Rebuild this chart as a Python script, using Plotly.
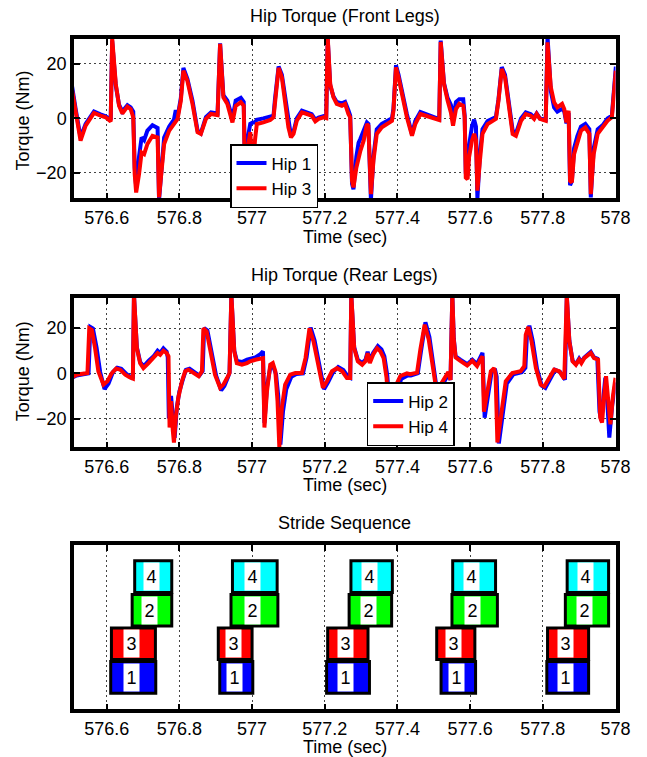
import plotly.graph_objects as go

# ---------------- data ----------------
xtick_vals = [576.6, 576.8, 577.0, 577.2, 577.4, 577.6, 577.8, 578.0]
xtick_text = ["576.6", "576.8", "577", "577.2", "577.4", "577.6", "577.8", "578"]
ytick_vals = [-20, 0, 20]
ytick_text = ["\u221220", "0", "20"]

# Front legs: Hip 3 (red)
t_hip3 = [576.500, 576.505, 576.515, 576.528, 576.542, 576.565, 576.583, 576.597, 576.611, 576.615,
          576.625, 576.634, 576.643, 576.657, 576.666, 576.673, 576.677, 576.681, 576.689, 576.696,
          576.703, 576.712, 576.726, 576.740, 576.744, 576.751, 576.758, 576.772, 576.785, 576.795,
          576.804, 576.811, 576.822, 576.836, 576.850, 576.859, 576.873, 576.887, 576.905, 576.912,
          576.921, 576.932, 576.946, 576.955, 576.969, 576.977, 576.981, 576.987, 576.995, 577.002,
          577.008, 577.013, 577.031, 577.050, 577.059, 577.063, 577.073, 577.082, 577.091, 577.100,
          577.107, 577.114, 577.123, 577.137, 577.151, 577.164, 577.174, 577.183, 577.197, 577.204,
          577.208, 577.215, 577.224, 577.233, 577.247, 577.256, 577.265, 577.270, 577.275, 577.279,
          577.287, 577.293, 577.298, 577.307, 577.316, 577.320, 577.327, 577.334, 577.343, 577.357,
          577.371, 577.385, 577.389, 577.396, 577.403, 577.412, 577.426, 577.440, 577.449, 577.463,
          577.477, 577.490, 577.507, 577.515, 577.519, 577.528, 577.538, 577.547, 577.553, 577.561,
          577.570, 577.581, 577.585, 577.588, 577.593, 577.597, 577.605, 577.611, 577.616, 577.620,
          577.627, 577.634, 577.648, 577.662, 577.671, 577.678, 577.687, 577.696, 577.707, 577.717,
          577.726, 577.740, 577.753, 577.767, 577.776, 577.783, 577.792, 577.808, 577.813, 577.822,
          577.831, 577.840, 577.853, 577.859, 577.865, 577.871, 577.875, 577.880, 577.886, 577.895,
          577.905, 577.917, 577.928, 577.932, 577.940, 577.951, 577.965, 577.978, 577.990, 577.997,
          578.001]
hip3 = [11.0, 10.2, 2.2, -8.2, -2.7, 2.0, 1.0, 0.4, -1.1, 29.5,
        12.6, 4.6, 1.8, 4.3, 3.4, 0.4, -20.4, -27.2, -20.4, -12.5,
        -13.1, -9.4, -6.4, -7.0, -29.0, -18.0, -9.4, -4.5, -2.1, -0.2,
        6.5, 17.5, 13.8, 5.3, -5.1, -5.7, -0.2, 1.6, 1.2, 27.3,
        7.7, 5.3, -1.5, 4.6, 5.9, 4.6, -26.0, -12.0, -5.0, -20.0,
        -8.0, -2.1, -1.5, -0.6, 0.4, 6.5, 18.5, 15.0, 6.5, -3.3,
        -7.0, -5.7, -0.9, 2.2, 1.6, 1.0, -1.1, -0.2, 0.4, 0.1,
        30.0, 12.6, 7.7, 5.3, 4.6, 5.3, 1.6, 0.4, -22.9, -25.3,
        -18.0, -14.3, -11.9, -8.2, -2.1, -2.7, -27.8, -15.5, -5.7, -3.3,
        -2.1, -0.9, 2.8, 18.7, 15.0, 8.9, 0.4, -6.4, -2.1, 1.6,
        1.0, 0.4, -0.2, -0.6, 28.0, 12.6, 6.5, 2.2, -2.7, 3.4,
        5.3, 4.6, 0.4, -21.7, -22.3, -14.3, -8.2, -5.7, -8.0, -26.5,
        -15.5, -5.7, -2.1, -0.9, -0.2, 6.5, 18.1, 15.0, 4.0, -5.7,
        -6.4, -0.9, 1.6, 1.0, -0.2, 1.6, -0.2, -0.9, 27.9, 11.4,
        5.9, 4.0, 5.3, 3.4, -1.5, 2.8, -22.9, -23.5, -13.1, -9.4,
        -4.5, -3.3, -5.7, -27.8, -13.1, -5.7, -3.3, -0.9, 0.4, 12.6,
        17.5]

# Front legs: Hip 1 (blue)
t_hip1 = [576.500, 576.505, 576.515, 576.528, 576.542, 576.565, 576.583, 576.597, 576.611, 576.615,
          576.625, 576.634, 576.643, 576.657, 576.666, 576.673, 576.677, 576.681, 576.689, 576.696,
          576.703, 576.712, 576.726, 576.740, 576.744, 576.751, 576.758, 576.772, 576.785, 576.790,
          576.795, 576.804, 576.811, 576.822, 576.836, 576.850, 576.859, 576.873, 576.887, 576.905,
          576.912, 576.921, 576.932, 576.946, 576.955, 576.969, 576.977, 576.981, 576.987, 576.995,
          577.002, 577.008, 577.013, 577.031, 577.050, 577.059, 577.063, 577.073, 577.082, 577.091,
          577.100, 577.107, 577.114, 577.123, 577.137, 577.151, 577.164, 577.174, 577.183, 577.197,
          577.204, 577.208, 577.215, 577.224, 577.233, 577.247, 577.256, 577.265, 577.270, 577.275,
          577.279, 577.287, 577.293, 577.298, 577.307, 577.316, 577.320, 577.327, 577.334, 577.343,
          577.357, 577.371, 577.385, 577.389, 577.396, 577.403, 577.412, 577.426, 577.440, 577.449,
          577.463, 577.477, 577.490, 577.507, 577.515, 577.519, 577.528, 577.538, 577.547, 577.553,
          577.561, 577.570, 577.581, 577.585, 577.588, 577.593, 577.597, 577.605, 577.611, 577.616,
          577.620, 577.627, 577.634, 577.648, 577.662, 577.671, 577.678, 577.687, 577.696, 577.707,
          577.717, 577.726, 577.740, 577.753, 577.767, 577.776, 577.783, 577.792, 577.808, 577.813,
          577.822, 577.831, 577.840, 577.853, 577.859, 577.865, 577.871, 577.875, 577.880, 577.886,
          577.895, 577.905, 577.917, 577.928, 577.932, 577.940, 577.951, 577.965, 577.978, 577.990,
          577.997, 578.001]
hip1 = [12.5, 11.5, 3.0, -7.0, -2.0, 2.5, 1.5, 0.8, -0.5, 28.5,
        12.0, 5.0, 2.5, 4.8, 4.0, 2.5, -18.0, -25.0, -14.0, -7.0,
        -8.0, -4.5, -2.5, -3.5, -30.0, -16.0, -7.0, -3.0, -0.5, 3.0,
        0.5, 7.5, 18.5, 14.5, 6.5, -4.5, -5.5, 0.5, 2.2, 1.8,
        27.5, 8.5, 6.5, 0.0, 6.5, 7.5, 6.0, -22.0, -8.0, -2.0,
        -1.5, -1.5, -0.5, 0.0, 0.5, 1.0, 7.0, 19.0, 16.0, 8.0,
        -2.0, -6.5, -5.0, 0.0, 2.8, 2.2, 1.5, -0.5, 0.3, 0.8,
        0.5, 29.5, 12.0, 8.0, 6.0, 5.5, 6.0, 3.0, 1.0, -24.0,
        -26.0, -14.0, -9.0, -7.5, -4.0, -1.5, -2.0, -30.0, -14.0, -4.0,
        -2.0, -1.0, 0.0, 3.5, 19.5, 16.0, 10.0, 1.5, -5.8, -1.0,
        2.3, 1.5, 0.8, 0.0, -0.3, 28.5, 13.0, 7.5, 5.0, 0.0,
        6.0, 7.0, 7.0, 1.0, -20.0, -21.0, -10.0, -3.0, -0.5, -3.0,
        -29.5, -13.0, -4.0, -1.0, 0.0, 0.5, 7.0, 18.8, 16.0, 6.0,
        -4.5, -5.5, 0.0, 2.2, 1.5, 0.3, 1.8, 0.0, -0.5, 30.0,
        10.0, 4.0, 2.5, 3.5, 2.5, -1.8, 2.0, -24.5, -23.0, -11.0,
        -6.5, -3.0, -2.0, -4.0, -29.0, -11.0, -4.0, -2.5, 0.0, 1.0,
        14.0, 19.0]

# Rear legs: Hip 4 (red)
t_hip4 = [576.500, 576.504, 576.517, 576.540, 576.547, 576.552, 576.559, 576.568, 576.577, 576.591,
          576.602, 576.614, 576.626, 576.637, 576.651, 576.664, 576.672, 576.675, 576.683, 576.692,
          576.701, 576.715, 576.729, 576.740, 576.747, 576.756, 576.765, 576.770, 576.773, 576.777,
          576.782, 576.785, 576.791, 576.797, 576.807, 576.816, 576.825, 576.839, 576.853, 576.862,
          576.866, 576.875, 576.885, 576.898, 576.912, 576.921, 576.931, 576.938, 576.943, 576.951,
          576.958, 576.972, 576.986, 576.995, 577.009, 577.023, 577.030, 577.034, 577.041, 577.050,
          577.057, 577.064, 577.070, 577.075, 577.082, 577.091, 577.105, 577.119, 577.137, 577.147,
          577.158, 577.169, 577.183, 577.195, 577.206, 577.220, 577.234, 577.248, 577.261, 577.270,
          577.273, 577.281, 577.291, 577.303, 577.312, 577.318, 577.324, 577.333, 577.344, 577.353,
          577.362, 577.370, 577.378, 577.385, 577.391, 577.397, 577.408, 577.426, 577.435, 577.454,
          577.463, 577.475, 577.486, 577.495, 577.504, 577.515, 577.530, 577.540, 577.546, 577.551,
          577.555, 577.560, 577.573, 577.592, 577.606, 577.619, 577.628, 577.634, 577.638, 577.648,
          577.657, 577.666, 577.670, 577.675, 577.689, 577.698, 577.716, 577.739, 577.749, 577.753,
          577.760, 577.769, 577.781, 577.794, 577.804, 577.817, 577.831, 577.845, 577.859, 577.866,
          577.873, 577.882, 577.891, 577.900, 577.906, 577.914, 577.926, 577.932, 577.941, 577.952,
          577.958, 577.963, 577.969, 577.974, 577.980, 577.986, 577.993, 578.000]
hip4 = [-1.5, -1.8, -0.6, -0.3, 0.1, 19.9, 19.2, 11.1, 0.9, -5.0,
        -3.5, 0.1, 2.1, 1.6, -0.6, -1.8, -2.3, 35.0, 11.1, 4.5,
        2.3, 4.5, 6.7, 8.9, 8.2, 10.0, 8.9, 7.5, -24.0, -12.3,
        -25.5, -30.6, -18.2, -10.8, -3.5, 0.9, 1.6, 0.1, -1.3, 0.9,
        19.9, 18.5, 9.7, -0.6, -6.4, -5.0, -2.1, 0.1, 35.0, 9.7,
        4.5, 3.8, 4.5, 5.3, 6.0, 6.7, 6.7, -24.0, -7.9, 3.8,
        4.5, 0.9, -12.3, -32.5, -15.2, -5.0, -0.6, 0.1, 0.1, 6.7,
        19.9, 14.1, 2.3, -6.4, -3.5, 0.9, 2.3, 0.9, -2.1, -2.1,
        35.0, 11.1, 5.3, 3.8, 5.3, 8.9, 4.5, 8.2, 11.1, 9.7,
        6.7, -2.0, -20.0, -10.0, -18.0, -5.0, -1.2, 0.0, -0.4, 0.3,
        10.5, 21.5, 15.0, 6.2, -4.1, -6.0, -2.0, 0.6, -3.0, 35.0,
        15.0, 7.0, 5.5, 3.5, 5.5, 3.2, 6.0, 7.5, -17.0, -7.9,
        0.9, 2.3, -0.6, -30.6, -13.8, -3.5, 0.1, 0.9, 3.1, 17.0,
        20.5, 14.1, 2.3, -5.0, -5.8, -2.1, 1.6, 0.9, -2.5, 34.5,
        14.1, 5.3, 3.8, 6.0, 4.5, 6.7, 8.2, 9.0, 6.7, 6.0,
        -19.6, -21.8, -10.0, -1.3, -12.0, -22.6, -10.0, -2.0]

# Rear legs: Hip 2 (blue)
t_hip2 = [576.500, 576.504, 576.517, 576.540, 576.550, 576.555, 576.562, 576.572, 576.582, 576.594,
          576.605, 576.617, 576.629, 576.640, 576.654, 576.667, 576.672, 576.675, 576.683, 576.692,
          576.701, 576.715, 576.729, 576.740, 576.747, 576.756, 576.765, 576.768, 576.771, 576.777,
          576.782, 576.787, 576.793, 576.800, 576.810, 576.818, 576.828, 576.842, 576.855, 576.864,
          576.868, 576.877, 576.888, 576.901, 576.915, 576.924, 576.933, 576.938, 576.943, 576.951,
          576.958, 576.972, 576.986, 576.995, 577.009, 577.023, 577.030, 577.034, 577.041, 577.050,
          577.057, 577.066, 577.072, 577.078, 577.085, 577.094, 577.108, 577.122, 577.140, 577.150,
          577.161, 577.172, 577.186, 577.198, 577.209, 577.223, 577.237, 577.251, 577.264, 577.270,
          577.273, 577.281, 577.291, 577.303, 577.312, 577.318, 577.324, 577.333, 577.346, 577.356,
          577.364, 577.372, 577.380, 577.386, 577.392, 577.398, 577.410, 577.428, 577.437, 577.456,
          577.465, 577.477, 577.488, 577.497, 577.506, 577.517, 577.532, 577.542, 577.546, 577.551,
          577.555, 577.560, 577.573, 577.592, 577.606, 577.619, 577.628, 577.634, 577.640, 577.650,
          577.659, 577.668, 577.673, 577.679, 577.692, 577.701, 577.719, 577.742, 577.752, 577.756,
          577.763, 577.772, 577.784, 577.797, 577.807, 577.820, 577.834, 577.848, 577.861, 577.866,
          577.873, 577.882, 577.891, 577.900, 577.906, 577.914, 577.926, 577.932, 577.941, 577.950,
          577.956, 577.961, 577.967, 577.972, 577.978, 577.983, 577.991, 578.000]
hip2 = [-2.0, -2.0, -1.0, -0.5, 0.0, 20.5, 19.8, 11.5, 0.5, -7.0,
        -4.5, 0.5, 2.5, 2.0, -0.3, -1.8, -2.3, 34.5, 11.5, 5.0,
        3.0, 5.5, 7.5, 10.0, 9.0, 11.0, 9.5, 7.0, -20.0, -10.0,
        -20.0, -28.5, -15.0, -8.0, -2.5, 1.5, 2.0, 0.5, -1.0, 1.0,
        20.0, 19.0, 9.5, -1.0, -7.5, -5.5, -2.0, 0.3, 34.5, 10.0,
        5.5, 5.0, 6.0, 6.5, 7.0, 8.5, 9.7, -22.0, -6.0, 2.5,
        3.5, -0.5, -10.0, -31.5, -17.0, -7.0, -1.5, -0.3, 0.0, 7.0,
        20.2, 14.5, 2.0, -7.0, -4.0, 0.5, 2.8, 1.5, -1.5, -2.0,
        34.5, 11.5, 6.0, 4.5, 6.0, 9.5, 5.5, 9.0, 12.0, 10.5,
        7.5, -1.0, -18.0, -12.0, -29.7, -10.0, -2.5, -1.0, -1.0, 0.0,
        10.0, 22.5, 16.0, 7.0, -4.5, -7.0, -3.0, 0.0, -3.0, 34.5,
        15.5, 7.5, 6.0, 4.0, 6.0, 4.0, 7.0, 9.0, -19.6, -9.0,
        0.5, 2.0, -1.5, -31.0, -15.0, -4.5, -0.5, 0.5, 2.5, 16.0,
        21.0, 14.5, 2.0, -5.5, -6.5, -2.5, 1.5, 0.5, -2.8, 34.0,
        14.5, 5.5, 4.0, 6.5, 5.0, 7.0, 8.5, 9.5, 7.0, 6.5,
        -17.0, -21.0, -10.0, -2.0, -14.0, -28.4, -14.0, -4.0]

# Stride sequence (stance start / end times, sec), leg rows bottom->top: 1, 3, 2, 4
leg_rows = [1, 2, 3, 4]
leg_names = ["1", "3", "2", "4"]
leg_colors = ["#0000FF", "#FF0000", "#00FF00", "#00FFFF"]
stance_start = [
    [576.611, 576.911, 577.205, 577.520, 577.811],  # leg 1
    [576.613, 576.907, 577.208, 577.508, 577.813],  # leg 3
    [576.670, 576.942, 577.267, 577.550, 577.862],  # leg 2
    [576.677, 576.946, 577.272, 577.552, 577.867],  # leg 4
]
stance_end = [
    [576.735, 577.002, 577.323, 577.615, 577.926],
    [576.734, 577.000, 577.319, 577.613, 577.926],
    [576.779, 577.071, 577.384, 577.675, 577.981],
    [576.779, 577.069, 577.386, 577.670, 577.981],
]

# ---------------- figure ----------------
W, H = 647, 757
FONT = "Liberation Sans, Arial, Helvetica, sans-serif"
FS = 18

def px_x(p):
    return p / W

def px_y(p):
    return 1 - p / H

XD = [px_x(74), px_x(615.5)]
dom_top = [px_y(198.25), px_y(38.75)]
dom_mid = [px_y(447.25), px_y(297.75)]
dom_bot = [px_y(709.25), px_y(544.75)]

fig = go.Figure()

BLUE = "#0000FF"
RED = "#FF0000"
LW = 4

fig.add_trace(go.Scatter(x=t_hip1, y=hip1, mode="lines", name="Hip 1",
                         line=dict(color=BLUE, width=LW), xaxis="x", yaxis="y", legend="legend"))
fig.add_trace(go.Scatter(x=t_hip3, y=hip3, mode="lines", name="Hip 3",
                         line=dict(color=RED, width=LW), xaxis="x", yaxis="y", legend="legend"))
fig.add_trace(go.Scatter(x=t_hip2, y=hip2, mode="lines", name="Hip 2",
                         line=dict(color=BLUE, width=LW), xaxis="x2", yaxis="y2", legend="legend2"))
fig.add_trace(go.Scatter(x=t_hip4, y=hip4, mode="lines", name="Hip 4",
                         line=dict(color=RED, width=LW), xaxis="x2", yaxis="y2", legend="legend2"))

annotations = []
for row, name, col, st, en in zip(leg_rows, leg_names, leg_colors, stance_start, stance_end):
    dur = [e - s for s, e in zip(st, en)]
    fig.add_trace(go.Bar(orientation="h", y=[row] * len(st), x=dur, base=st, width=0.94,
                         marker=dict(color=col, line=dict(color="black", width=3)),
                         showlegend=False, xaxis="x3", yaxis="y3", hoverinfo="skip"))
    for s, e in zip(st, en):
        annotations.append(dict(x=(s + e) / 2 - 0.006, y=row, xref="x3", yref="y3",
                                text=name, showarrow=False, bgcolor="white",
                                width=15, height=27, borderpad=0,
                                font=dict(family=FONT, size=FS, color="black")))

def xaxis(anchor):
    return dict(domain=XD, anchor=anchor, range=[576.51, 578.0],
                tickmode="array", tickvals=xtick_vals, ticktext=xtick_text,
                ticks="inside", ticklen=6, tickwidth=2, tickcolor="black",
                showline=True, linewidth=3.5, linecolor="black", mirror="ticks",
                showgrid=True, gridcolor="#444444", gridwidth=1, griddash="2px,3px",
                zeroline=False, automargin=False,
                tickfont=dict(family=FONT, size=FS, color="black"))

def yaxis(anchor, dom, rng, show_ticks=True):
    d = dict(domain=dom, anchor=anchor, range=rng, automargin=False,
             showline=True, linewidth=3.5, linecolor="black", mirror="ticks" if show_ticks else True,
             zeroline=False, tickfont=dict(family=FONT, size=FS, color="black"))
    if show_ticks:
        d.update(tickmode="array", tickvals=ytick_vals, ticktext=ytick_text,
                 ticks="inside", ticklen=6, tickwidth=2, tickcolor="black",
                 showgrid=True, gridcolor="#444444", gridwidth=1, griddash="2px,3px")
    else:
        d.update(showticklabels=False, ticks="", showgrid=False)
    return d

xc = (XD[0] + XD[1]) / 2
for title, ypix in [("Hip Torque (Front Legs)", 16), ("Hip Torque (Rear Legs)", 275), ("Stride Sequence", 523)]:
    annotations.append(dict(x=xc, y=px_y(ypix), xref="paper", yref="paper", text=title,
                            showarrow=False, xanchor="center", yanchor="middle",
                            font=dict(family=FONT, size=FS, color="black")))
for ypix in [236.5, 485.5, 746.5]:
    annotations.append(dict(x=xc, y=px_y(ypix), xref="paper", yref="paper", text="Time (sec)",
                            showarrow=False, xanchor="center", yanchor="middle",
                            font=dict(family=FONT, size=FS, color="black")))
for ypix in [121, 371.7]:
    annotations.append(dict(x=px_x(22.5), y=px_y(ypix), xref="paper", yref="paper", text="Torque (Nm)",
                            showarrow=False, xanchor="center", yanchor="middle", textangle=-90,
                            font=dict(family=FONT, size=FS, color="black")))

legend_common = dict(bgcolor="white", bordercolor="black", borderwidth=1.5,
                     font=dict(family=FONT, size=17, color="black"),
                     xanchor="left", yanchor="top", tracegroupgap=0, itemwidth=30)

fig.update_layout(
    width=W, height=H, autosize=False,
    margin=dict(l=0, r=0, t=0, b=0, pad=0, autoexpand=False),
    paper_bgcolor="white", plot_bgcolor="white",
    barmode="overlay", showlegend=True,
    xaxis=xaxis("y"), yaxis=yaxis("x", dom_top, [-29.3, 29.2]),
    xaxis2=xaxis("y2"), yaxis2=yaxis("x2", dom_mid, [-32.7, 33.4]),
    xaxis3=xaxis("y3"), yaxis3=yaxis("x3", dom_bot, [0.05, 4.95], show_ticks=False),
    legend=dict(x=px_x(230), y=px_y(144), **legend_common),
    legend2=dict(x=px_x(366.7), y=px_y(382), **legend_common),
    annotations=annotations,
    font=dict(family=FONT, size=FS, color="black"),
)

fig.write_html(
    "out.html",
    config={"responsive": False},
    post_script=("document.documentElement.style.overflow='hidden';"
                 "document.body.style.margin='0';document.body.style.overflow='hidden';"),
)
